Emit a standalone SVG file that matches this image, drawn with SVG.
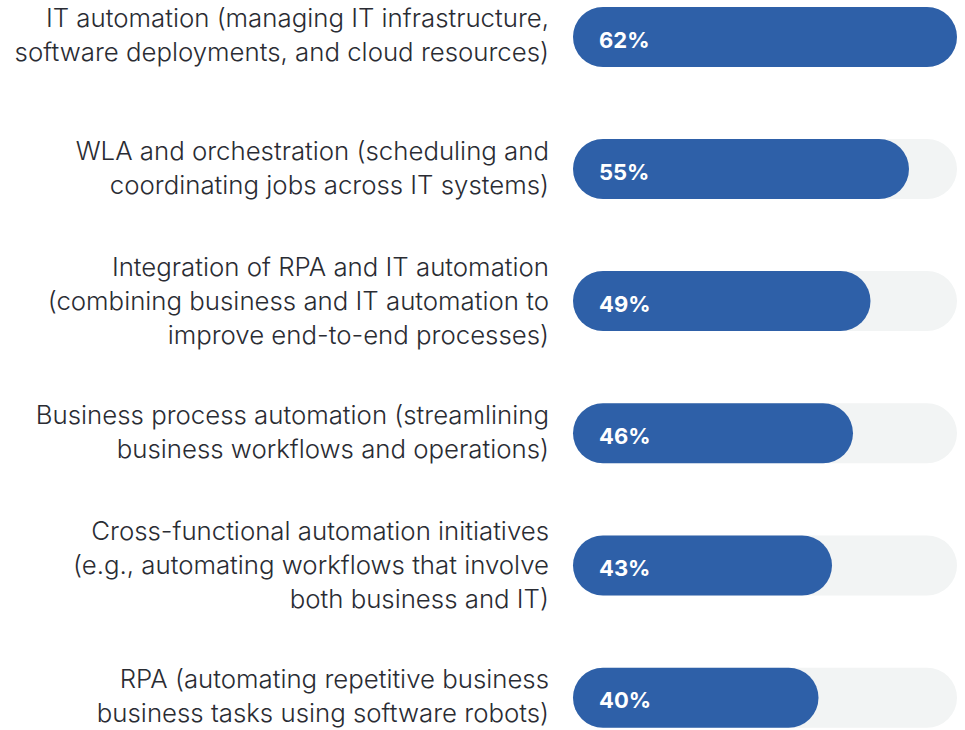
<svg xmlns="http://www.w3.org/2000/svg" width="965" height="730" viewBox="0 0 965 730">
<style>
.lbl{font-family:Inter,"Liberation Sans",sans-serif;font-size:25.8px;font-weight:300;fill:#2a2c33;text-anchor:end}
.trk{fill:#f2f4f4}
.bar{fill:#2e60a8}
.pct{font-family:Inter,"Liberation Sans",sans-serif;font-size:22px;font-weight:700;fill:#ffffff}
</style>
<rect width="965" height="730" fill="#ffffff"/>
<g id="row1">
<rect class="trk" x="573" y="7" width="384" height="60" rx="30"/>
<rect class="bar" x="573" y="7" width="384" height="60" rx="30"/>
<text class="pct" x="599" y="47.5">62%</text>
<text class="lbl" x="549" y="27">IT automation (managing IT infrastructure,</text>
<text class="lbl" x="549" y="61">software deployments, and cloud resources)</text>
</g>
<g id="row2">
<rect class="trk" x="573" y="139" width="384" height="60" rx="30"/>
<rect class="bar" x="573" y="139" width="336" height="60" rx="30"/>
<text class="pct" x="599" y="179.5">55%</text>
<text class="lbl" x="549" y="159.5">WLA and orchestration (scheduling and</text>
<text class="lbl" x="549" y="193.5">coordinating jobs across IT systems)</text>
</g>
<g id="row3">
<rect class="trk" x="573" y="271" width="384" height="60" rx="30"/>
<rect class="bar" x="573" y="271" width="297.5" height="60" rx="30"/>
<text class="pct" x="599" y="311.5">49%</text>
<text class="lbl" x="549" y="275.5">Integration of RPA and IT automation</text>
<text class="lbl" x="549" y="309.5">(combining business and IT automation to</text>
<text class="lbl" x="549" y="343.5">improve end-to-end processes)</text>
</g>
<g id="row4">
<rect class="trk" x="573" y="403.3" width="384" height="60" rx="30"/>
<rect class="bar" x="573" y="403.3" width="280" height="60" rx="30"/>
<text class="pct" x="599" y="443.8">46%</text>
<text class="lbl" x="549" y="424">Business process automation (streamlining</text>
<text class="lbl" x="549" y="458">business workflows and operations)</text>
</g>
<g id="row5">
<rect class="trk" x="573" y="535.5" width="384" height="60" rx="30"/>
<rect class="bar" x="573" y="535.5" width="259" height="60" rx="30"/>
<text class="pct" x="599" y="576">43%</text>
<text class="lbl" x="549" y="539.5">Cross-functional automation initiatives</text>
<text class="lbl" x="549" y="573.5">(e.g., automating workflows that involve</text>
<text class="lbl" x="549" y="607.5">both business and IT)</text>
</g>
<g id="row6">
<rect class="trk" x="573" y="667.7" width="384" height="60" rx="30"/>
<rect class="bar" x="573" y="667.7" width="245.5" height="60" rx="30"/>
<text class="pct" x="599" y="708.2">40%</text>
<text class="lbl" x="549" y="688">RPA (automating repetitive business</text>
<text class="lbl" x="549" y="722">business tasks using software robots)</text>
</g>
<g id="connectors"/>
</svg>
